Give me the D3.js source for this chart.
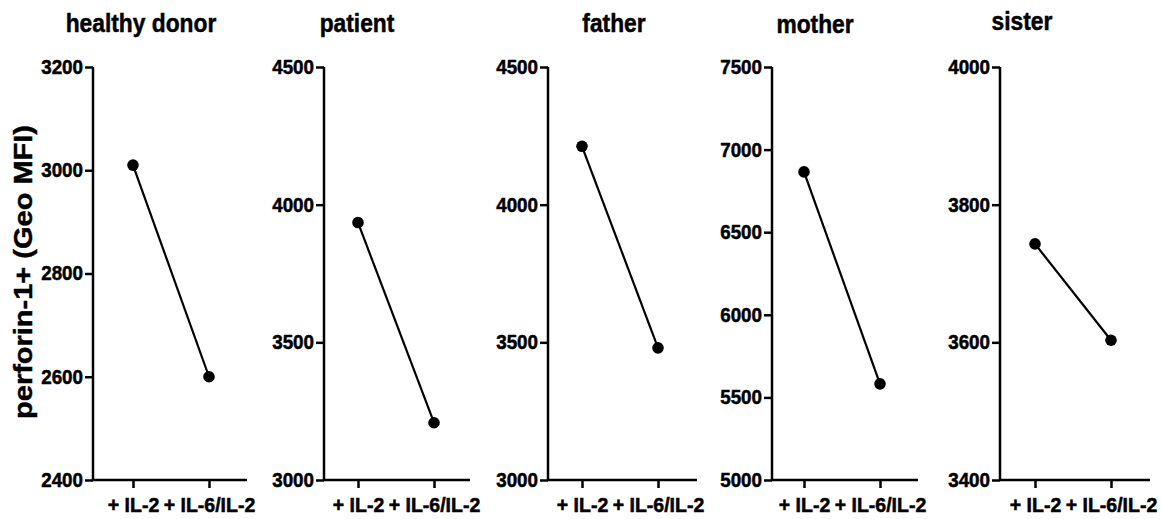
<!DOCTYPE html>
<html>
<head>
<meta charset="utf-8">
<script src="https://cdn.jsdelivr.net/npm/d3@7"></script>
<style>
  body { margin: 0; background: #fff; }
  text { font-family: "Liberation Sans", Arial, sans-serif; font-weight: bold; fill: #000; stroke: #000; stroke-width: 0.5px; }
</style>
</head>
<body>
<div id="container"></div>
<script>
// data
let groups = ["healthy donor", "patient", "father", "mother", "sister"];
let conditions = ["+ IL-2", "+ IL-6/IL-2"];
let il2Values = [3010, 3935, 4212, 6865, 3743];
let il6il2Values = [2600, 3208, 3480, 5582, 3603];
let yDomains = [[2400, 3200], [3000, 4500], [3000, 4500], [5000, 7500], [3400, 4000]];
let yTicks = [
  [2400, 2600, 2800, 3000, 3200],
  [3000, 3500, 4000, 4500],
  [3000, 3500, 4000, 4500],
  [5000, 5500, 6000, 6500, 7000, 7500],
  [3400, 3600, 3800, 4000]
];
let yTitle = "perforin-1+ (Geo MFI)";

// layout of each panel (axis x, axis length, first tick offset, title centre)
let panelX = [93, 324, 548, 772, 1000];
let panelW = [154, 146, 149, 146, 150];
let tickOff = [40, 34, 34, 32, 35];
let titleX = [141, 357, 614, 815, 1022];
let titleY = [32, 32, 32, 33, 30];

let w = 1162;
let h = 519;
let plotTop = 67;
let plotBottom = 480;
let squeeze = 0.86;
let tickSqueeze = 0.94;

let viz = d3.select("#container")
  .append("svg")
    .attr("width", w)
    .attr("height", h)
;

// shared y title
viz.append("text")
    .attr("transform", "translate(32,272) rotate(-90) scale(1," + squeeze + ")")
    .attr("text-anchor", "middle")
    .attr("font-size", 29)
    .text(yTitle)
;

groups.forEach(function(name, i) {
  let g = viz.append("g")
      .attr("class", "panel")
      .attr("transform", "translate(" + panelX[i] + ",0)")
  ;

  let y = d3.scaleLinear().domain(yDomains[i]).range([plotBottom, plotTop]);
  let x = d3.scalePoint().domain(conditions).range([tickOff[i], tickOff[i] + 76]);

  // y axis
  let yAxis = g.append("g")
      .call(d3.axisLeft(y).tickValues(yTicks[i]).tickSize(8).tickPadding(3).tickFormat(d3.format("d")))
  ;
  yAxis.select(".domain").attr("d", "M0," + plotTop + "V" + plotBottom);
  yAxis.selectAll("line, .domain").attr("stroke", "#000").attr("stroke-width", 2.5);
  yAxis.selectAll("text")
      .attr("font-size", 20)
      .attr("font-family", "Liberation Sans, Arial, sans-serif")
      .attr("font-weight", "bold")
      .attr("transform", "scale(" + tickSqueeze + ",1)")
      .attr("x", -10 / tickSqueeze)
  ;

  // x axis
  let xAxis = g.append("g")
      .attr("transform", "translate(0," + plotBottom + ")")
      .call(d3.axisBottom(x).tickSize(8).tickPadding(10))
  ;
  xAxis.select(".domain").attr("d", "M0,0H" + panelW[i]);
  xAxis.selectAll("line, .domain").attr("stroke", "#000").attr("stroke-width", 2.5);
  xAxis.selectAll("text")
      .attr("font-size", 19.5)
      .attr("font-family", "Liberation Sans, Arial, sans-serif")
      .attr("font-weight", "bold")
  ;

  // line + points
  let pts = [[conditions[0], il2Values[i]], [conditions[1], il6il2Values[i]]];
  g.append("path")
      .attr("d", d3.line().x(function(d) { return x(d[0]); }).y(function(d) { return y(d[1]); })(pts))
      .attr("stroke", "#000")
      .attr("stroke-width", 2.2)
      .attr("fill", "none")
  ;
  g.selectAll(".dot").data(pts).enter()
    .append("circle")
      .attr("class", "dot")
      .attr("cx", function(d) { return x(d[0]); })
      .attr("cy", function(d) { return y(d[1]); })
      .attr("r", 5.8)
      .attr("fill", "#000")
  ;

  // panel title
  viz.append("text")
      .attr("transform", "translate(" + titleX[i] + "," + titleY[i] + ") scale(" + squeeze + ",1)")
      .attr("text-anchor", "middle")
      .attr("font-size", 26.5)
      .text(name)
  ;
});
</script>
</body>
</html>
